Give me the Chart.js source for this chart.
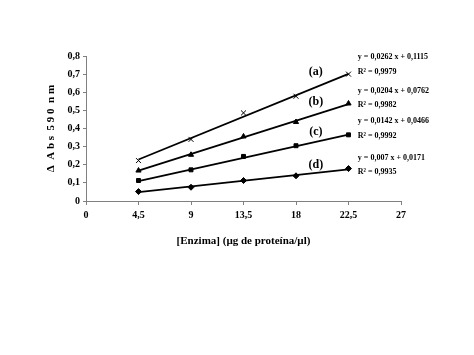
<!DOCTYPE html>
<html>
<head>
<meta charset="utf-8">
<script src="https://cdn.jsdelivr.net/npm/chart.js@4"></script>
<style>
  html, body { margin: 0; padding: 0; background: #fff; }
  #wrap { width: 474px; height: 355px; }
</style>
</head>
<body>
<div id="wrap"><canvas id="chart" width="474" height="355"></canvas></div>
<script>
// enzyme amount (µg de proteína/µl)
const doses = [4.5, 9, 13.5, 18, 22.5];

// measured ΔAbs 590 nm
const serieA = [0.223, 0.340, 0.486, 0.578, 0.700];
const serieB = [0.168, 0.255, 0.356, 0.436, 0.538];
const serieC = [0.113, 0.172, 0.246, 0.305, 0.365];
const serieD = [0.052, 0.076, 0.113, 0.139, 0.179];

// trendline ends, read at x = 4.5 and x = 22.5
const trendX = [4.5, 22.5];
const trendA = [0.229, 0.701];
const trendB = [0.168, 0.535];
const trendC = [0.110, 0.366];
const trendD = [0.049, 0.175];

const curveLabels = ['(a)', '(b)', '(c)', '(d)'];
const equations = ['y = 0,0262 x + 0,1115', 'y = 0,0204 x + 0,0762', 'y = 0,0142 x + 0,0466', 'y = 0,007 x + 0,0171'];
const rSquared = ['R² = 0,9979', 'R² = 0,9982', 'R² = 0,9992', 'R² = 0,9935'];

const fontFamily = '"Liberation Serif", "Times New Roman", serif';
const comma = v => String(Math.round(v * 10) / 10).replace('.', ',');

const toPoints = (xs, ys) => xs.map((x, i) => ({ x, y: ys[i] }));

const series = [
  { values: serieA, trend: trendA, style: 'crossRot', radius: 3.5, border: 1 },
  { values: serieB, trend: trendB, style: 'triangle', radius: 3, border: 1 },
  { values: serieC, trend: trendC, style: 'rect', radius: 2.8, border: 1 },
  { values: serieD, trend: trendD, style: 'rectRot', radius: 3, border: 1 }
];

const datasets = [];
series.forEach(s => {
  datasets.push({
    data: toPoints(trendX, s.trend),
    showLine: true,
    borderColor: '#000',
    borderWidth: 1.8,
    pointRadius: 0,
    fill: false
  });
  datasets.push({
    data: toPoints(doses, s.values),
    showLine: false,
    pointStyle: s.style,
    pointRadius: s.radius,
    pointBorderWidth: s.border,
    pointBackgroundColor: '#000',
    pointBorderColor: '#000'
  });
});

// where the (a)-(d) tags and equations sit, in data units
const tagX = 19.7;
const tagY = [0.711, 0.545, 0.383, 0.200];
const eqX = 23.3;
const eqY = [0.797, 0.606, 0.440, 0.237];
const r2Y = [0.711, 0.532, 0.361, 0.163];

const annotations = {
  id: 'annotations',
  afterDatasetsDraw(chart) {
    const { ctx, scales: { x, y } } = chart;
    ctx.save();
    ctx.fillStyle = '#000';
    ctx.textBaseline = 'middle';
    ctx.textAlign = 'center';
    ctx.font = 'bold 12px ' + fontFamily;
    curveLabels.forEach((t, i) => ctx.fillText(t, x.getPixelForValue(tagX), y.getPixelForValue(tagY[i])));
    ctx.textAlign = 'left';
    ctx.font = 'bold 8px ' + fontFamily;
    equations.forEach((t, i) => ctx.fillText(t, x.getPixelForValue(eqX), y.getPixelForValue(eqY[i])));
    rSquared.forEach((t, i) => ctx.fillText(t, x.getPixelForValue(eqX), y.getPixelForValue(r2Y[i])));
    ctx.restore();
  }
};

new Chart(document.getElementById('chart'), {
  type: 'scatter',
  data: { datasets },
  plugins: [annotations],
  options: {
    responsive: false,
    animation: false,
    layout: { padding: { left: 45, top: 56, right: 73, bottom: 107 } },
    plugins: { legend: { display: false }, tooltip: { enabled: false } },
    scales: {
      x: {
        type: 'linear',
        min: 0,
        max: 27,
        afterFit: scale => { scale.height = 47; },
        border: { color: '#808080', width: 1 },
        grid: { drawOnChartArea: false, color: '#808080', tickLength: 4 },
        ticks: {
          stepSize: 4.5,
          padding: 4,
          color: '#000',
          font: { family: fontFamily, size: 10, weight: 'bold' },
          callback: v => String(v).replace('.', ',')
        },
        title: {
          display: true,
          text: '[Enzima] (µg de proteína/µl)',
          color: '#000',
          padding: 0,
          font: { family: fontFamily, size: 11, weight: 'bold' }
        }
      },
      y: {
        min: 0,
        max: 0.8,
        afterFit: scale => { scale.width = 41; },
        border: { color: '#808080', width: 1 },
        grid: { drawOnChartArea: false, color: '#808080', tickLength: 3 },
        ticks: {
          stepSize: 0.1,
          padding: 3,
          color: '#000',
          font: { family: fontFamily, size: 10, weight: 'bold' },
          callback: v => comma(v)
        },
        title: {
          display: true,
          text: 'Δ  A b s  5 9 0  n m',
          color: '#000',
          padding: 0,
          font: { family: fontFamily, size: 11, weight: 'bold' }
        }
      }
    }
  }
});
</script>
</body>
</html>
